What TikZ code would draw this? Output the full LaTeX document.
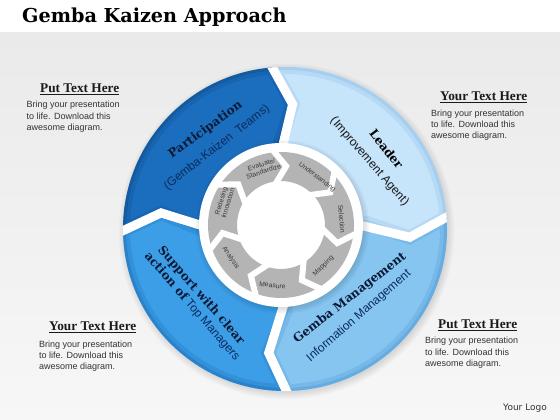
\documentclass[tikz,border=0pt]{standalone}
\usepackage{fontspec}
\setmainfont{Liberation Sans}
\newfontfamily\dvserif{DejaVu Serif}
\newfontfamily\lserif{Liberation Serif}
\newfontfamily\dvsans{DejaVu Sans}
\usetikzlibrary{calc}
\definecolor{bgtop}{HTML}{EAEAEA}
\definecolor{bgbot}{HTML}{F7F7F7}
\definecolor{partc}{HTML}{1B6EBE}
\definecolor{parte}{HTML}{0B4580}
\definecolor{leadc}{HTML}{C6E4FA}
\definecolor{leade}{HTML}{7FB8E6}
\definecolor{gembc}{HTML}{86C5F0}
\definecolor{gembe}{HTML}{3F8FD0}
\definecolor{suppc}{HTML}{3C9EE7}
\definecolor{suppe}{HTML}{1565AE}
\definecolor{grayseg}{HTML}{B4B4B4}
\definecolor{graytext}{HTML}{3A3A3A}
\definecolor{navy}{HTML}{0B1A36}
\definecolor{navysub}{HTML}{0A2B5C}
\definecolor{bodyc}{HTML}{333333}
\definecolor{headc}{HTML}{1A1A1A}
% big ring segment: #1 ccw tip angle, #2 cw tip angle, #3 command
\newcommand\bigsegp[3]{#3 ({#1+8}:162) arc[start angle={#1+8}, end angle={#2+8}, radius=162] -- ({#2}:125) -- ({#2+8}:82) -- ({#2+8}:70) arc[start angle={#2+8}, end angle={#1+8}, radius=70] -- ({#1+8}:82) -- ({#1}:125) -- cycle;}
\newcommand\biggap[1]{\draw[white, line width=9pt, line join=miter] ($({#1}:125)!1.5!({#1+8}:162)$) -- ({#1}:125) -- ({#1+8}:70);}
\newcommand\graysegp[3]{#3 ({#1+10}:73) arc[start angle={#1+10}, end angle={#2+10}, radius=73] -- ({#2}:59) -- ({#2+10}:44) arc[start angle={#2+10}, end angle={#1+10}, radius=44] -- ({#1}:59) -- cycle;}
\newcommand\graygap[1]{\draw[white, line width=6pt, line join=miter] ($({#1}:59)!1.25!({#1+10}:73)$) -- ({#1}:59) -- ($({#1}:59)!1.25!({#1+10}:44)$);}
\newcommand\segshade[4]{\begin{scope}\bigsegp{#1}{#2}{\clip}\bigsegp{#1}{#2}{\draw[#3, line width=14pt, opacity=.22]}\bigsegp{#1}{#2}{\draw[#3, line width=6pt, opacity=.3]}\end{scope}}
\tikzset{
  graylbl/.style={font=\fontsize{6.8}{7.2}\selectfont, text=graytext, align=center, inner sep=0pt},
  seglbl/.style={font=\dvserif\bfseries\fontsize{12}{13}\selectfont, text=navy, inner sep=0pt},
  sublbl/.style={font=\fontsize{12}{13}\selectfont, text=navysub, inner sep=0pt},
  headlbl/.style={font=\lserif\bfseries\fontsize{13.3}{15}\selectfont, text=headc, anchor=base west, inner sep=0pt},
  bodylbl/.style={font=\fontsize{9}{11.2}\selectfont, text=bodyc, align=left, anchor=base west, inner sep=0pt}
}
\begin{document}
\begin{tikzpicture}[x=1pt,y=1pt]
\useasboundingbox (0,0) rectangle (560,420);
% background
\shade[top color=bgtop, bottom color=bgbot] (0,0) rectangle (560,388);
\fill[white] (0,388) rectangle (560,420);
\node[anchor=base west, font=\dvserif\bfseries\fontsize{19.2}{20}\selectfont, inner sep=0pt] (title) at (22,397.5) {Gemba Kaizen Approach};
% big ring
\begin{scope}[shift={(285,191)}]
  \foreach \i in {1,...,6} \fill[black, opacity=.018] (1.5,-2.5) circle ({160+\i*1.3});
  \bigsegp{172.6}{86.5}{\fill[partc]}
  \bigsegp{86.5}{-3.8}{\fill[leadc]}
  \bigsegp{-3.8}{-97.5}{\fill[gembc]}
  \bigsegp{-97.5}{-187.4}{\fill[suppc]}
  \segshade{172.6}{86.5}{parte}{}
  \segshade{86.5}{-3.8}{leade}{}
  \segshade{-3.8}{-97.5}{gembe}{}
  \segshade{-97.5}{-187.4}{suppe}{}
  \begin{scope}
    \clip (0,0) circle (162);
    \biggap{86.5}
    \biggap{-3.8}
    \biggap{-97.5}
    \biggap{172.6}
  \end{scope}
\end{scope}
% inner disk and gray ring
\begin{scope}[shift={(281,195)}]
  \foreach \i in {1,...,5} \fill[black, opacity=.022] (1.5,-2) circle ({81+\i*1.2});
  \fill[white] (0,0) circle (82);
  \foreach \k in {0,...,6}{
    \pgfmathsetmacro\ga{85-(\k-1)*51.4286}
    \pgfmathsetmacro\gb{85-\k*51.4286}
    \graysegp{\ga}{\gb}{\fill[grayseg]}
  }
  \foreach \k in {0,...,6}{
    \pgfmathsetmacro\gb{85-\k*51.4286}
    \graygap{\gb}
  }
  \node[graylbl, rotate=18] (evl) at (108:60) {Evaluate/\\Standardize};
  \node[graylbl, rotate=-37] (und) at (53:60) {Understanding};
  \node[graylbl, rotate=-85] (sel) at (5.6:61) {Selection};
  \node[graylbl, rotate=45] (map) at (-44:59) {Mapping};
  \node[graylbl, rotate=-6] (mea) at (-98:61) {Measure};
  \node[graylbl, rotate=-56] (ana) at (-147:60) {Analysis};
  \node[graylbl, rotate=73] (red) at (158:61) {Redesing\\Innovation};
\end{scope}
% big ring labels
\node[seglbl, rotate=36] (partT) at (205.5,290) {Participation};
\node[sublbl, rotate=38] (partS) at (217,272.5) {(Gemba-Kaizen\hspace{0.3em} Teams)};
\node[seglbl, rotate=-52, text=black] (leadT) at (386.5,271) {Leader};
\node[sublbl, rotate=-49, text=black!90] (leadS) at (369.5,258.5) {(Improvement Agent)};
\node[seglbl, rotate=38] (gembT) at (350,122) {Gemba Management};
\node[sublbl, rotate=41] (gembS) at (359,104) {Information Management};
\node[seglbl, rotate=-49] (suppT) at (201,124.5) {Support with clear};
\node[sublbl, rotate=-49] (suppS) at (192,113.5) {{\dvserif\bfseries\color{navy}action of} Top Managers};
% text boxes
\node[headlbl] (tlh) at (40,327) {\underline{Put Text Here}};
\node[bodylbl] (tlb) at (26.5,289.6) {Bring your presentation\\to life. Download this\\awesome diagram.};
\node[headlbl] (trh) at (440,319) {\underline{Your Text Here}};
\node[bodylbl] (trb) at (431,281.1) {Bring your presentation\\to life. Download this\\awesome diagram.};
\node[headlbl] (blh) at (49,89) {\underline{Your Text Here}};
\node[bodylbl] (blb) at (39,50.1) {Bring your presentation\\to life. Download this\\awesome diagram.};
\node[headlbl] (brh) at (438,91) {\underline{Put Text Here}};
\node[bodylbl] (brb) at (425,53.6) {Bring your presentation\\to life. Download this\\awesome diagram.};
\node[anchor=base west, font=\dvsans\fontsize{9}{10}\selectfont, text=bodyc, inner sep=0pt] (logo) at (503,9) {Your Logo};
\end{tikzpicture}
\end{document}
